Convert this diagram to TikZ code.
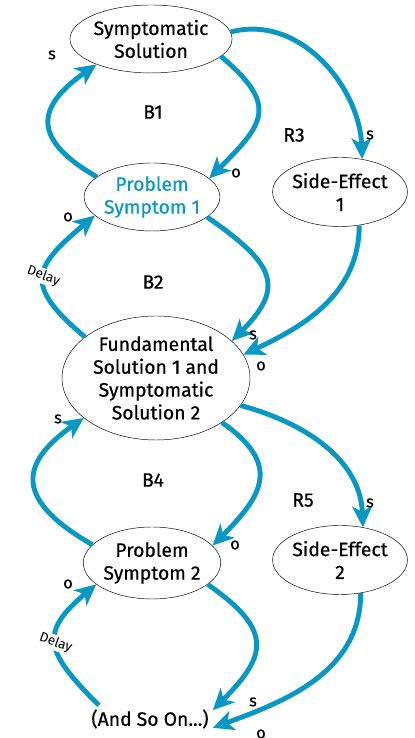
\documentclass[tikz,border=0pt]{standalone}
\usepackage{fontspec}
\setmainfont{Fira Sans}[BoldFont={Fira Sans}, BoldFeatures={FakeBold=0.5}]
\definecolor{cldblue}{RGB}{9,152,196}
\usetikzlibrary{arrows.meta,positioning,shapes.geometric}

\begin{document}
\begin{tikzpicture}[x=0.03cm,y=0.03cm,
    varnode/.style={ellipse, draw=black, thin, fill=white, inner sep=0pt, align=center,
      font=\fontsize{16.5}{19.5}\selectfont\bfseries},
    loopname/.style={font=\fontsize{16.5}{19.5}\selectfont\bfseries},
    polarity/.style={font=\fontsize{14}{16}\selectfont\bfseries},
    delaylbl/.style={fill=white, inner sep=1pt, rotate=-20, font=\fontsize{11.5}{13}\selectfont},
    link/.style={draw=cldblue, line width=4.2pt, -{Stealth[length=18pt,width=17pt,inset=5pt]}}
  ]
    \useasboundingbox (0,0) rectangle (414,738);

    \node[varnode, minimum width=4.86cm, minimum height=2.04cm] (ss)   at (151,699) {Symptomatic\\Solution};
    \node[varnode, minimum width=4.02cm, minimum height=2.04cm, text=cldblue] (ps1) at (152,541) {Problem\\Symptom 1};
    \node[varnode, minimum width=4.02cm, minimum height=2.07cm] (se1)  at (340,546) {Side-Effect\\1};
    \node[varnode, minimum width=5.64cm, minimum height=3.72cm] (fund) at (156,360) {Fundamental\\Solution 1 and\\Symptomatic\\Solution 2};
    \node[varnode, minimum width=4.02cm, minimum height=2.16cm] (ps2)  at (152,175) {Problem\\Symptom 2};
    \node[varnode, minimum width=4.02cm, minimum height=2.07cm] (se2)  at (340,178) {Side-Effect\\2};
    \node[loopname] (aso) at (150,19) {(And So On...)};

    \draw[link] (ps1.160) to[out=150, in=215, looseness=1.7] (ss.205);
    \draw[link] (ss.-14) to[out=-40, in=45, looseness=1.6] (ps1.18);
    \draw[link] (ss.5) to[out=15, in=92] (se1.56);
    \draw[link] (ps1.-20) to[out=-35, in=45, looseness=1.6] (fund.26);
    \draw[link] (se1.-60) to[out=-90, in=25] (fund.15);
    \draw[link] (fund.150) to[out=140, in=220, looseness=1.7] node[delaylbl, pos=0.5] {Delay} (ps1.198);
    \draw[link] (ps2.163) to[out=150, in=215, looseness=1.7] (fund.209);
    \draw[link] (fund.-34) to[out=-35, in=45, looseness=1.5] (ps2.16);
    \draw[link] (fund.-18) to[out=-15, in=92] (se2.55);
    \draw[link] (ps2.-21) to[out=-35, in=45, looseness=1.6] (aso.8);
    \draw[link] (se2.-58) to[out=-90, in=20] (aso.-8);
    \draw[link] (aso.165) to[out=135, in=220, looseness=1.6] node[delaylbl, pos=0.5] {Delay} (ps2.201);

    \node[loopname] (b1) at (153,626) {B1};
    \node[loopname] (r3) at (294,603) {R3};
    \node[loopname] (b2) at (153,456) {B2};
    \node[loopname] (b4) at (153,258) {B4};
    \node[loopname] (r5) at (303,238) {R5};

    \node[polarity] (s1) at (52,683) {s};
    \node[polarity] (o1) at (236,565) {o};
    \node[polarity] (s2) at (370,603) {s};
    \node[polarity] (o2) at (68,521) {o};
    \node[polarity] (s3) at (253,403) {s};
    \node[polarity] (o3) at (261,372) {o};
    \node[polarity] (s4) at (58,319) {s};
    \node[polarity] (o4) at (235,193) {o};
    \node[polarity] (s5) at (370,235) {s};
    \node[polarity] (o5) at (68,154) {o};
    \node[polarity] (s6) at (253,36) {s};
    \node[polarity] (o6) at (261,4) {o};
\end{tikzpicture}
\end{document}
